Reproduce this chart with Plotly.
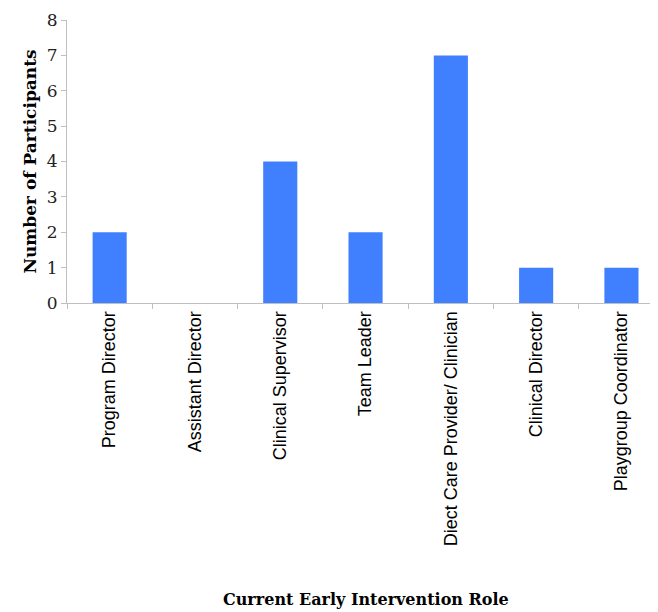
import plotly.graph_objects as go

roles = ["Program Director", "Assistant Director", "Clinical Supervisor", "Team Leader",
         "Diect Care Provider/ Clinician", "Clinical Director", "Playgroup Coordinator"]
participants = [2, 0, 4, 2, 7, 1, 1]
y_ticks = [0, 1, 2, 3, 4, 5, 6, 7, 8]

# page is offset by 8px body margin
W, H = 650, 604
L, R, T, B = 59, 0, 12, 309
PW, PH = W - L - R, H - T - B

fig = go.Figure(go.Bar(
    x=roles, y=participants, width=0.4,
    marker=dict(color="#4080FF", line=dict(width=0)),
))

fig.update_layout(
    width=W, height=H, margin=dict(l=L, r=R, t=T, b=B),
    plot_bgcolor="white", paper_bgcolor="white", showlegend=False,
    xaxis=dict(
        range=[-0.5, -0.5 + PW / 85.3], showline=True, linecolor="#bfbfbf", linewidth=1,
        ticks="outside", tickson="boundaries", ticklen=5, tickcolor="#bfbfbf",
        tickangle=-90, tickfont=dict(family="Liberation Sans, Arial", size=18, color="black"),
        showgrid=False, zeroline=False,
    ),
    yaxis=dict(
        range=[0, 8], tickvals=y_ticks, showline=True, linecolor="#bfbfbf", linewidth=1,
        ticks="outside", ticklen=5, tickcolor="#bfbfbf",
        tickfont=dict(family="DejaVu Serif", size=17, color="#222"),
        showgrid=False, zeroline=False,
        title=dict(text="<b>Number of Participants</b>", standoff=5,
                   font=dict(family="DejaVu Serif", size=17, color="black")),
    ),
    annotations=[dict(
        text="<b>Current Early Intervention Role</b>", xref="paper", yref="paper",
        x=(358 - L) / PW, y=(PH - 579) / PH, xanchor="center", yanchor="middle",
        showarrow=False, font=dict(family="DejaVu Serif", size=16, color="black"),
    )],
)

fig.write_html("out.html")
